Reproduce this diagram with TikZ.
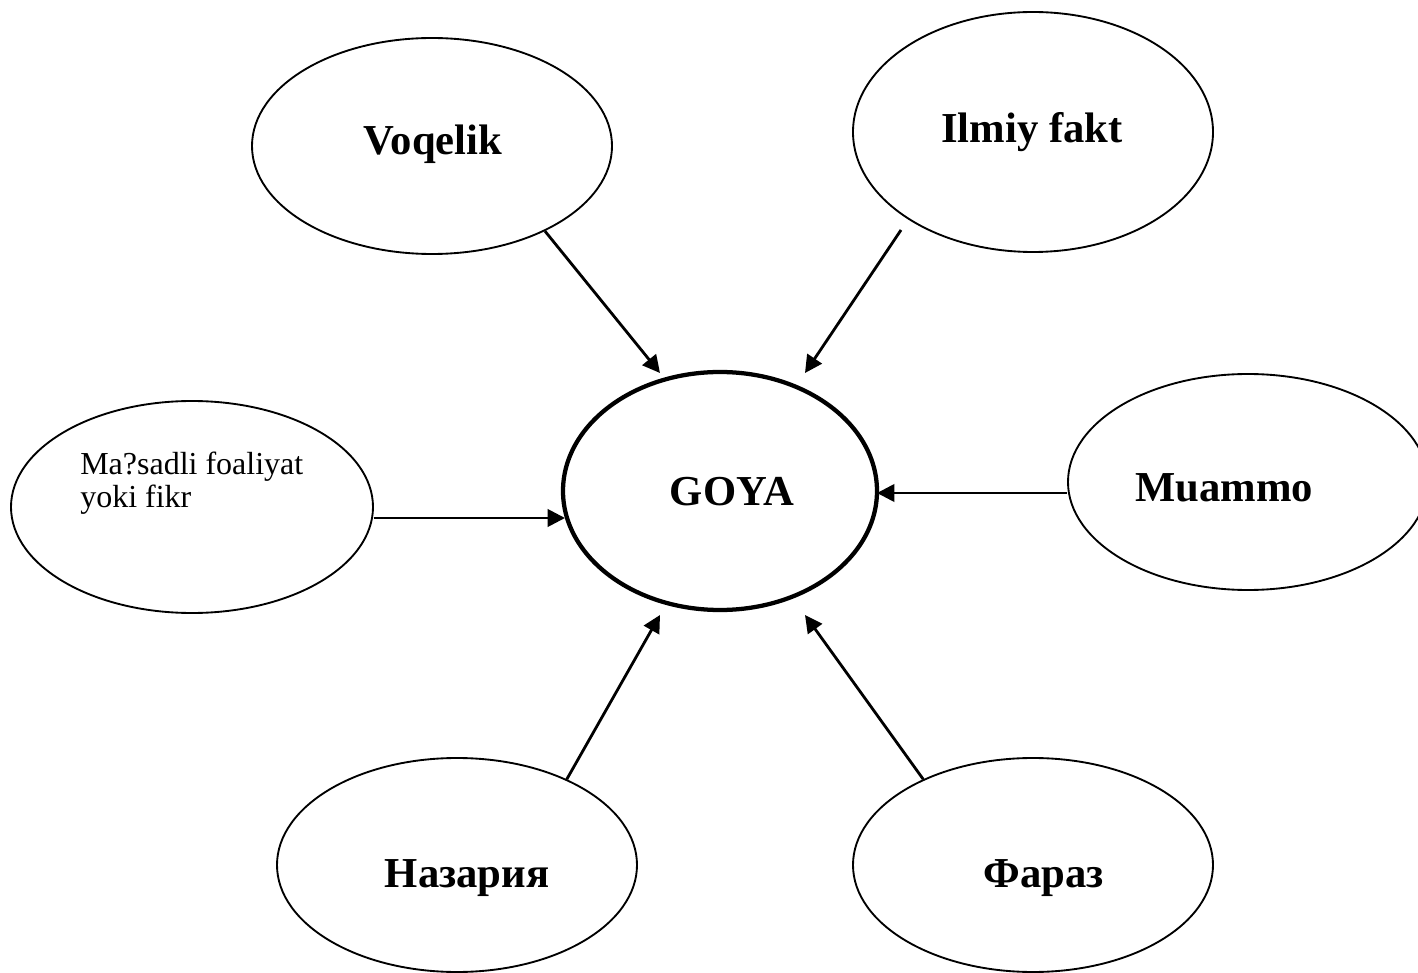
\documentclass[tikz,border=0pt]{standalone}
\usepackage{fontspec}
\setmainfont{Liberation Serif}
\usetikzlibrary{shapes.geometric,arrows.meta}
\begin{document}
\begin{tikzpicture}[x=0.75pt,y=-0.75pt,
  oval/.style={draw=black,line width=1.4pt,ellipse,inner sep=0pt,fill=white},
  mainoval/.style={draw=black,line width=3.2pt,ellipse,inner sep=0pt},
  lbl/.style={anchor=base,inner sep=0pt,font=\fontsize{32}{36}\selectfont\bfseries},
  arr/.style={line width=2.1pt,-{Triangle[length=13pt,width=13pt]}}]
\useasboundingbox[fill=white] (0,0) rectangle (1418,973);
% ellipses
\node[oval,minimum width=360*0.75pt,minimum height=216*0.75pt] (voq) at (432,146) {};
\node[oval,minimum width=360*0.75pt,minimum height=240*0.75pt] (ilm) at (1033,132) {};
\node[oval,minimum width=362*0.75pt,minimum height=212*0.75pt] (mas) at (192,507) {};
\node[mainoval,minimum width=314*0.75pt,minimum height=238*0.75pt] (goya) at (720,491) {};
\node[oval,minimum width=360*0.75pt,minimum height=216*0.75pt] (mua) at (1248,482) {};
\node[oval,minimum width=360*0.75pt,minimum height=214*0.75pt] (naz) at (457,865) {};
\node[oval,minimum width=360*0.75pt,minimum height=214*0.75pt] (far) at (1033,865) {};
% labels
\node[lbl] (tvoq) at (433,155) {Voqelik};
\node[lbl] (tilm) at (1032,143) {Ilmiy fakt};
\node[lbl] (tgoya) at (732,506) {GOYA};
\node[lbl] (tmua) at (1224,502) {Muammo};
\node[lbl] (tnaz) at (467,887) {Назария};
\node[lbl] (tfar) at (1044,887) {Фараз};
\node[anchor=base west,inner sep=0pt,align=left,font=\fontsize{24}{24.75}\selectfont] (tmas) at (80,508) {Ma?sadli foaliyat\\yoki fikr};
% connector ends
\coordinate (ilmstart) at (901,230);
\coordinate (tip1) at (660,373);
\coordinate (tip2) at (805,373);
\coordinate (tip3) at (565,518);
\coordinate (tip4) at (877,493);
\coordinate (tip5) at (660,615);
\coordinate (tip6) at (805,615);
% connectors
\draw[arr] (voq.-37.4) -- (tip1);
\draw[arr] (ilmstart) -- (tip2);
\draw[arr] (tip3 -| mas.east) -- (tip3);
\draw[arr] (tip4 -| mua.west) -- (tip4);
\draw[arr] (naz.38.2) -- (tip5);
\draw[arr] (far.142.3) -- (tip6);
\end{tikzpicture}
\end{document}
